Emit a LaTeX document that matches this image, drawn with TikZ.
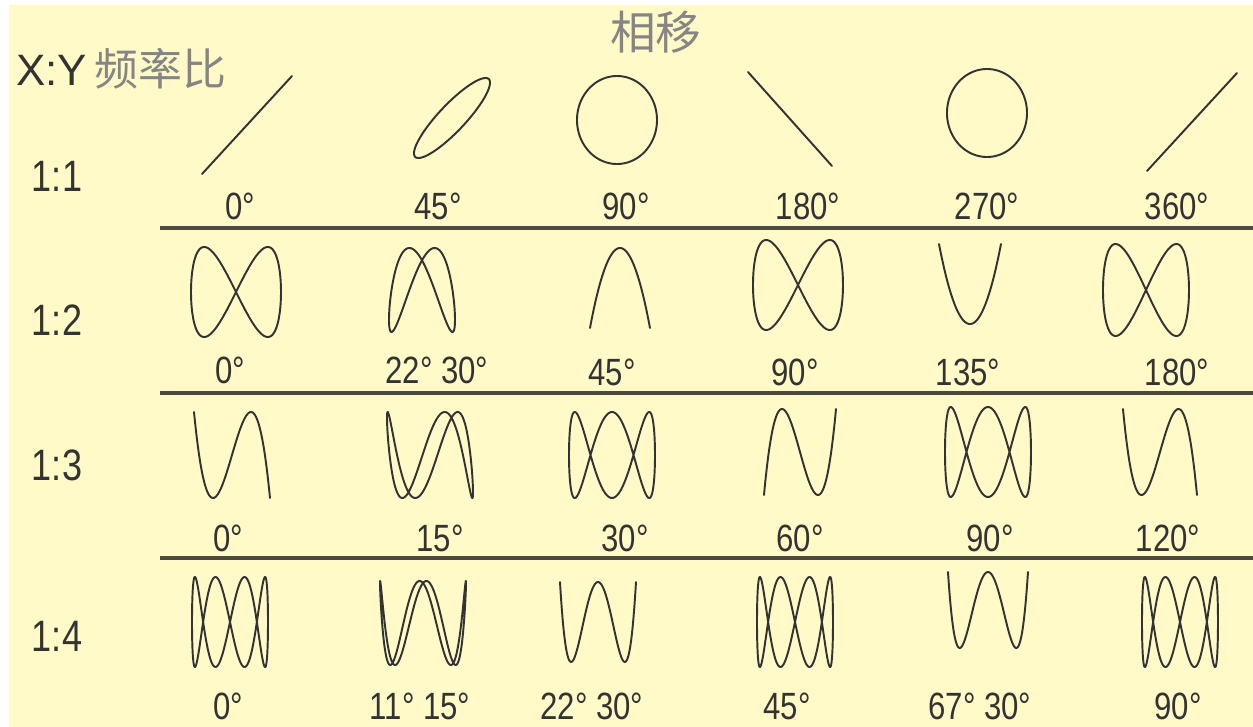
\documentclass[tikz,border=0pt]{standalone}
\usepackage{fontspec}
\setmainfont{Liberation Sans}[FakeStretch=0.82]
\newfontfamily\plainsans{Liberation Sans}
\newfontfamily\cjkfont{Noto Sans CJK SC}
\usetikzlibrary{positioning}
\definecolor{paperyellow}{HTML}{FFFAC8}
\definecolor{rulegray}{HTML}{4A4A40}
\definecolor{inkgray}{HTML}{333333}
\definecolor{titlegray}{HTML}{858585}

\begin{document}
\begin{tikzpicture}[x=0.01cm,y=-0.01cm,
    trace/.style={line width=0.55pt,draw=inkgray,line join=round},
    phase/.style={font=\fontsize{10.8}{12}\selectfont,text=inkgray},
    ratio/.style={font=\fontsize{12.5}{14}\selectfont,text=inkgray},
    divider/.style={line width=1pt,draw=rulegray}]
    \useasboundingbox (0,0) rectangle (1253,727);
    \fill[white] (0,0) rectangle (1253,727);
    \fill[paperyellow] (9,5) rectangle (1253,727);
    % headings
    \node[font=\cjkfont\fontsize{13}{15}\selectfont,text=titlegray] (title) at (656,32) {相移};
    \node[ratio,anchor=west] (head) at (4,69)
        {\plainsans X:Y\hspace{2pt}\textcolor{titlegray}{\cjkfont 频率比}};
    \foreach \r/\rlab/\y in {1/1:1/176,2/1:2/320,3/1:3/465,4/1:4/636}{
        \node[ratio] (row\r) at (57,\y) {\rlab};
    }
    % dividers between the rows
    \foreach \k/\y in {1/228,2/393,3/558}{
        \coordinate (d\k w) at (160,\y);
        \coordinate (d\k e) at (1253,\y);
        \draw[divider] (d\k w) -- (d\k e);
    }
    % row/col/centre/half size/frequency/phase/label position/label
    \foreach \r/\c/\cx/\cy/\rx/\ry/\fq/\ph/\lx/\ly/\lab in {
        1/1/247/125/45/49/1/0/240/206/0°,
        1/2/452/118/38/40/1/28/438/206/45°,
        1/3/617/120/40/44/1/90/626/206/90°,
        1/4/790/119/42/47/1/180/808/206/180°,
        1/5/987/113/40/44/1/270/987/206/270°,
        1/6/1192/122/45/49/1/360/1177/206/360°,
        2/1/236/292/45/45/2/0/230/370/0°,
        2/2/422/290/33/42/2/45/437/370/22° 30°,
        2/3/620/288/30/40/2/90/612/372/45°,
        2/4/798/285/45/45/2/180/795/372/90°,
        2/5/970/284/31/40/2/270/968/372/135°,
        2/6/1146/290/43/46/2/360/1177/372/180°,
        3/1/232/455/38/43/3/0/228/538/0°,
        3/2/430/455/43/43/3/30/440/538/15°,
        3/3/612/455/43/43/3/90/625/538/30°,
        3/4/800/452/36/43/3/180/800/538/60°,
        3/5/988/452/43/45/3/270/990/538/90°,
        3/6/1160/452/37/43/3/0/1168/538/120°,
        4/1/230/622/38/45/4/0/228/706/0°,
        4/2/423/623/43/42/4/72/420/706/11° 15°,
        4/3/598/622/38/40/4/90/592/706/22° 30°,
        4/4/795/622/38/45/4/180/787/706/45°,
        4/5/988/610/40/38/4/90/980/706/67° 30°,
        4/6/1180/622/38/45/4/360/1178/706/90°}{
        \draw[trace] plot[domain=0:360,samples=241,variable=\t]
            ({\cx+\rx*sin(\t)},{\cy-\ry*sin(\fq*\t+\ph)});
        \node[phase] (p\r\c) at (\lx,\ly) {\lab};
    }
\end{tikzpicture}
\end{document}
